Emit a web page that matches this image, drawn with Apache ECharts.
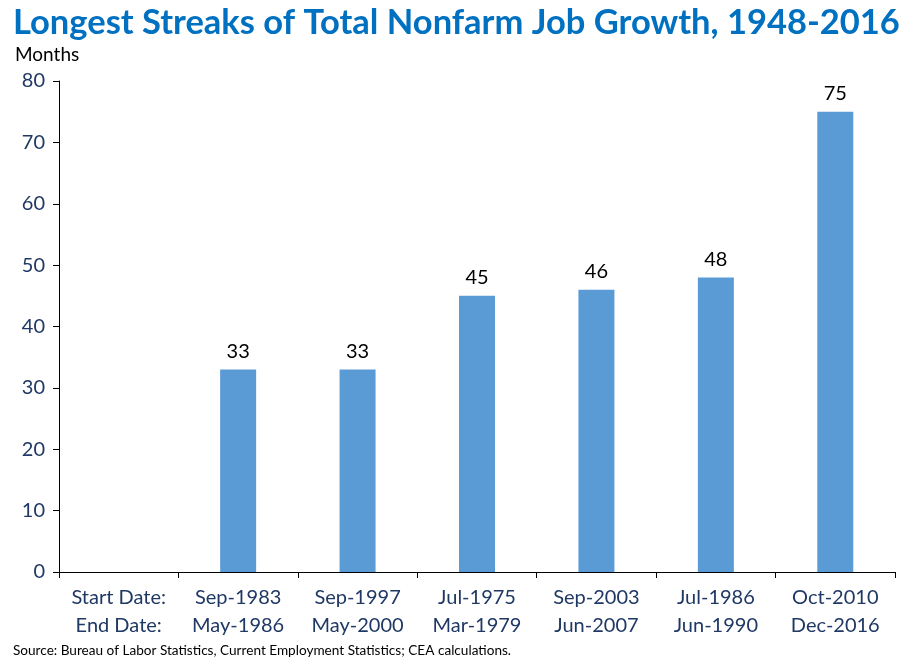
<!DOCTYPE html>
<html>
<head>
<meta charset="utf-8">
<script src="https://cdn.jsdelivr.net/npm/echarts@6/dist/echarts.min.js"></script>
<style>
  html, body { margin: 0; padding: 0; background: #fff; }
  #chart { width: 911px; height: 661px; }
</style>
</head>
<body>
<div id="chart"></div>
<script>
// streak start/end dates and length in months
var startDates = ['Start Date:', 'Sep-1983', 'Sep-1997', 'Jul-1975', 'Sep-2003', 'Jul-1986', 'Oct-2010'];
var endDates = ['End Date:', 'May-1986', 'May-2000', 'Mar-1979', 'Jun-2007', 'Jun-1990', 'Dec-2016'];
var months = [null, 33, 33, 45, 46, 48, 75];

var categories = [];
for (var i = 0; i < startDates.length; i++) {
    categories.push(startDates[i] + '\n' + endDates[i]);
}

var font = 'Lato';
var myChart = echarts.init(document.getElementById('chart'));
var option = {
    animation: false,
    textStyle: { fontFamily: font },
    title: [
        {
            text: 'Longest Streaks of Total Nonfarm Job Growth, 1948-2016',
            left: 8,
            top: 0,
            textStyle: { color: '#0070C0', fontSize: 34.5, fontWeight: 'bold', fontFamily: font }
        },
        {
            text: 'Months',
            left: 10,
            top: 40,
            textStyle: { color: '#000', fontSize: 19, fontWeight: 'normal', fontFamily: font }
        },
        {
            text: 'Source: Bureau of Labor Statistics, Current Employment Statistics; CEA calculations.',
            left: 8,
            top: 639,
            textStyle: { color: '#000', fontSize: 13.6, fontWeight: 'normal', fontFamily: font }
        }
    ],
    grid: { left: 59, right: 16, top: 81, bottom: 89 },
    xAxis: {
        type: 'category',
        data: categories,
        axisLine: { lineStyle: { color: '#000', width: 1 } },
        axisTick: { show: true, length: 6, lineStyle: { color: '#000' } },
        axisLabel: {
            interval: 0,
            color: '#1F3864',
            fontSize: 20,
            lineHeight: 28,
            margin: 12
        }
    },
    yAxis: {
        type: 'value',
        min: 0,
        max: 80,
        interval: 10,
        splitLine: { show: false },
        axisLine: { show: true, lineStyle: { color: '#000', width: 1 } },
        axisTick: { show: true, length: 6, lineStyle: { color: '#000' } },
        axisLabel: { color: '#1F3864', fontSize: 20, margin: 14 }
    },
    series: [
        {
            type: 'bar',
            data: months,
            barWidth: 36,
            itemStyle: { color: '#5B9BD5' },
            label: {
                show: true,
                position: 'top',
                distance: 8,
                color: '#000',
                fontSize: 20
            }
        }
    ]
};
myChart.setOption(option);
</script>
</body>
</html>
